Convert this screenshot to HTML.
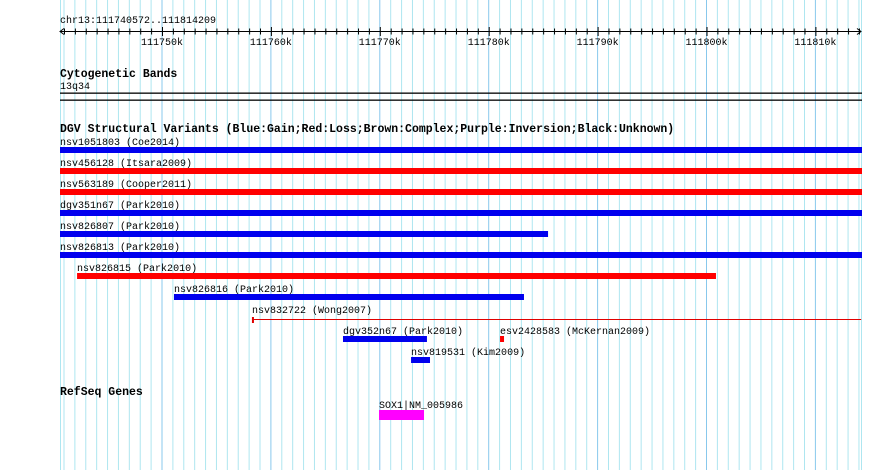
<!DOCTYPE html>
<html><head><meta charset="utf-8"><style>
html,body{margin:0;padding:0;background:#fff;}
svg{display:block;font-family:"Liberation Mono",monospace;}
.lbl{font-size:10px;fill:#000;}
.ttl{font-size:11.5px;font-weight:bold;fill:#000;}
</style></head><body>
<svg id="chart" width="890" height="470" viewBox="0 0 890 470" xmlns="http://www.w3.org/2000/svg">
<g id="grid"></g>
<g id="ruler"></g>
<text class="lbl" x="60" y="23">chr13:111740572..111814209</text>
<text class="ttl" x="60" y="77">Cytogenetic Bands</text>
<text class="lbl" x="60" y="89">13q34</text>
<rect x="60" y="92.5" width="802" height="1.3" fill="#000"/>
<rect x="60" y="99.5" width="802" height="1.3" fill="#000"/>
<text class="ttl" x="60" y="132">DGV Structural Variants (Blue:Gain;Red:Loss;Brown:Complex;Purple:Inversion;Black:Unknown)</text>
<g id="dgv"></g>
<text class="ttl" x="60" y="395">RefSeq Genes</text>
<g id="genes"></g>
</svg>
<script>
const svAll = ["nsv1051803 (Coe2014)","nsv456128 (Itsara2009)","nsv563189 (Cooper2011)","dgv351n67 (Park2010)","nsv826807 (Park2010)","nsv826813 (Park2010)","nsv826815 (Park2010)","nsv826816 (Park2010)","nsv832722 (Wong2007)","dgv352n67 (Park2010)","esv2428583 (McKernan2009)","nsv819531 (Kim2009)"];
const svStart = [111740.5,111740.5,111740.5,111740.5,111740.5,111740.5,111742.2,111751.1,111758.26,111766.62,111781.04,111772.87];
const svEnd = [111814.3,111814.3,111814.3,111814.3,111785.45,111814.3,111800.87,111783.24,111814.2,111774.33,111781.4,111774.61];
const svType = ["gain","loss","loss","gain","gain","gain","loss","gain","lossline","gain","loss","gain"];
const svRow = [0,1,2,3,4,5,6,7,8,9,9,10];
const geneNames = ["SOX1|NM_005986"];
const geneStart = [111769.93];
const geneEnd = [111774.06];
const rulerTicks = ["111750k","111760k","111770k","111780k","111790k","111800k","111810k"];
const rulerTickPos = [111750,111760,111770,111780,111790,111800,111810];

const NS="http://www.w3.org/2000/svg";
const x = kb => 162 + (kb-111750)*10.89;
function mk(tag, parent, attrs){const e=document.createElementNS(NS,tag);for(const k in attrs)e.setAttribute(k,attrs[k]);parent.appendChild(e);return e;}

const grid=document.getElementById('grid');
for(let k=111741;k<=111814;k++){
  const l=mk('line',grid,{x1:x(k),x2:x(k),y1:0,y2:470,stroke:(k%10===0)?'#88c8ec':'#aee6f0','stroke-width':1});
  
  
}
[60,861].forEach(px=>{const l=mk('line',grid,{x1:px+0.5,x2:px+0.5,y1:0,y2:470,stroke:'#aee6f0'});
  
  });

const ruler=document.getElementById('ruler');
mk('line',ruler,{x1:60,x2:861,y1:31.5,y2:31.5,stroke:'#000'});
mk('path',ruler,{d:'M64,28.5 L60,31.5 L64,34.5 M857,28.5 L861,31.5 L857,34.5',stroke:'#000',fill:'none'});
for(let k=111741;k<=111814;k++){
  const big=k%10===0;
  mk('line',ruler,{x1:x(k)+0.5,x2:x(k)+0.5,y1:big?27:28.5,y2:big?36:34.5,stroke:'#000'});
}
rulerTicks.forEach((t,i)=>{
  const tx=mk('text',ruler,{x:x(rulerTickPos[i]),y:45,'text-anchor':'middle',class:'lbl'});
  tx.textContent=t;
  
  
});

const dgv=document.getElementById('dgv');
svAll.forEach((name,i)=>{
  const top=147+svRow[i]*21;
  const x0=Math.max(60,x(svStart[i])), x1=Math.min(862,x(svEnd[i]));
  const g=mk('g',dgv,{});
  
  
  const t=mk('text',g,{x:x0,y:top-2,class:'lbl'});
  t.textContent=name;
  
  
  if(svType[i]==='lossline'){
    mk('rect',g,{x:x0,y:top+4,width:x1-x0,height:1,fill:'#e00000'});
    mk('rect',g,{x:x0,y:top+2,width:2,height:6,fill:'#e00000'});
  } else {
    const r=mk('rect',g,{x:x0,y:top,width:Math.max(4,x1-x0),height:6,fill:svType[i]==='gain'?'#0000ee':'#ff0000'});
    
    
  }
});

const genes=document.getElementById('genes');
geneNames.forEach((n,i)=>{
  const t=mk('text',genes,{x:x(geneStart[i]),y:408,class:'lbl'});
  t.textContent=n;
  
  
  const r=mk('rect',genes,{x:x(geneStart[i]),y:410,width:x(geneEnd[i])-x(geneStart[i]),height:10,fill:'#ff00ff'});
  
  
});
</script>
</body></html>
